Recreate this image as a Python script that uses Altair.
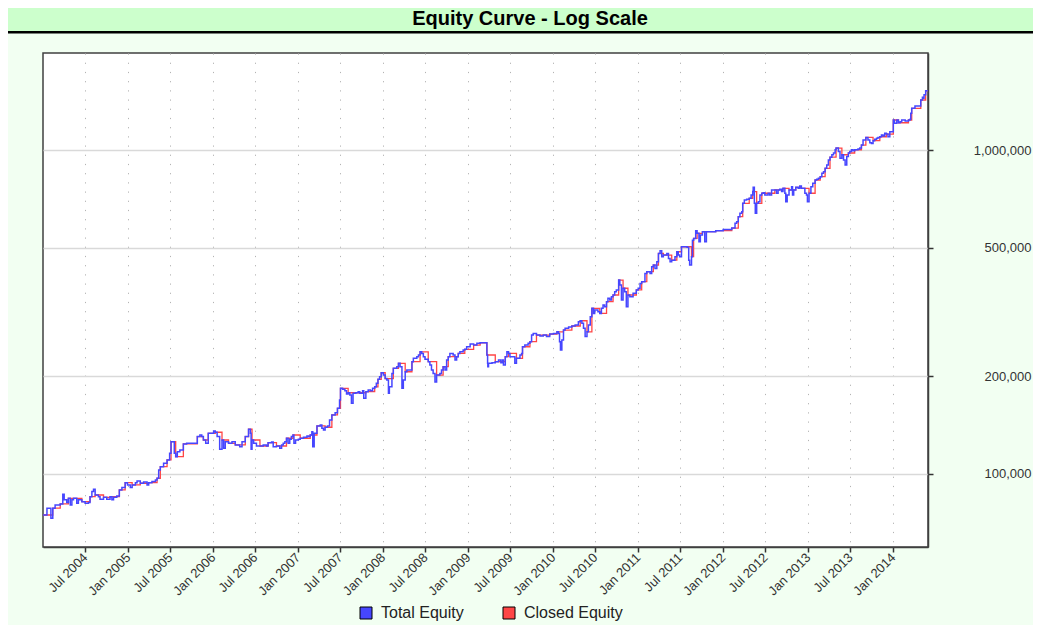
import altair as alt
import pandas as pd

chart_title = "Equity Curve - Log Scale"
series_names = ["Total Equity", "Closed Equity"]
series_colors = ["#4646FF", "#FF4646"]
y_ticks = [100000, 200000, 500000, 1000000]
x_tick_dates = [(2004, 7), (2005, 1), (2005, 7), (2006, 1), (2006, 7), (2007, 1), (2007, 7),
                (2008, 1), (2008, 7), (2009, 1), (2009, 7), (2010, 1), (2010, 7), (2011, 1),
                (2011, 7), (2012, 1), (2012, 7), (2013, 1), (2013, 7), (2014, 1)]

total_dates = [
    "2004-01-02", "2004-01-19", "2004-02-05", "2004-02-13", "2004-02-23", "2004-03-08", "2004-03-16",
    "2004-03-27", "2004-04-02", "2004-04-13", "2004-04-20", "2004-04-28", "2004-05-05", "2004-05-12",
    "2004-05-26", "2004-06-02", "2004-06-17", "2004-07-01", "2004-07-15", "2004-07-22", "2004-07-30",
    "2004-08-06", "2004-08-13", "2004-08-27", "2004-09-03", "2004-09-18", "2004-10-02", "2004-10-16",
    "2004-10-24", "2004-10-31", "2004-11-14", "2004-11-25", "2004-12-06", "2004-12-20", "2004-12-30",
    "2005-01-11", "2005-01-19", "2005-02-02", "2005-02-09", "2005-02-23", "2005-03-09", "2005-03-24",
    "2005-03-31", "2005-04-14", "2005-04-29", "2005-05-06", "2005-05-13", "2005-05-20", "2005-06-03",
    "2005-06-18", "2005-06-29", "2005-07-05", "2005-07-15", "2005-07-19", "2005-07-25", "2005-08-01",
    "2005-08-12", "2005-08-27", "2005-09-10", "2005-10-16", "2005-10-26", "2005-11-06", "2005-11-14",
    "2005-11-21", "2005-12-01", "2005-12-12", "2005-12-22", "2006-01-04", "2006-01-11", "2006-01-19",
    "2006-01-25", "2006-01-30", "2006-02-09", "2006-02-16", "2006-02-23", "2006-03-09", "2006-03-24",
    "2006-04-07", "2006-04-26", "2006-05-06", "2006-05-20", "2006-06-03", "2006-06-11", "2006-06-14",
    "2006-06-18", "2006-06-25", "2006-07-07", "2006-07-22", "2006-08-05", "2006-08-19", "2006-08-26",
    "2006-09-10", "2006-09-17", "2006-10-01", "2006-10-15", "2006-10-23", "2006-10-30", "2006-11-06",
    "2006-11-13", "2006-11-20", "2006-11-27", "2006-12-04", "2006-12-11", "2006-12-15", "2006-12-22",
    "2007-01-03", "2007-01-11", "2007-01-25", "2007-02-09", "2007-02-16", "2007-02-23", "2007-03-02",
    "2007-03-06", "2007-03-12", "2007-03-24", "2007-04-07", "2007-04-14", "2007-04-21", "2007-04-28",
    "2007-05-08", "2007-05-17", "2007-05-27", "2007-06-10", "2007-06-20", "2007-06-29", "2007-07-03",
    "2007-07-12", "2007-07-22", "2007-07-29", "2007-08-05", "2007-08-12", "2007-08-19", "2007-08-26",
    "2007-09-07", "2007-09-17", "2007-09-24", "2007-10-06", "2007-10-11", "2007-10-20", "2007-10-30",
    "2007-11-09", "2007-11-18", "2007-11-27", "2007-12-04", "2007-12-11", "2007-12-18", "2007-12-25",
    "2008-01-03", "2008-01-11", "2008-01-18", "2008-01-25", "2008-01-29", "2008-02-09", "2008-02-15",
    "2008-03-01", "2008-03-08", "2008-03-15", "2008-03-23", "2008-03-29", "2008-04-06", "2008-04-13",
    "2008-04-24", "2008-05-05", "2008-05-11", "2008-05-26", "2008-06-02", "2008-06-09", "2008-06-16",
    "2008-06-23", "2008-06-30", "2008-07-14", "2008-07-21", "2008-07-28", "2008-08-04", "2008-08-12",
    "2008-08-19", "2008-09-02", "2008-09-09", "2008-09-16", "2008-09-24", "2008-10-01", "2008-10-08",
    "2008-10-15", "2008-10-29", "2008-11-06", "2008-11-13", "2008-11-20", "2008-11-27", "2008-12-11",
    "2008-12-18", "2008-12-26", "2009-01-10", "2009-01-25", "2009-02-08", "2009-02-22", "2009-03-20",
    "2009-03-23", "2009-03-26", "2009-03-27", "2009-03-30", "2009-04-14", "2009-04-28", "2009-05-12",
    "2009-05-22", "2009-05-29", "2009-06-02", "2009-06-10", "2009-06-17", "2009-06-24", "2009-06-30",
    "2009-07-14", "2009-07-21", "2009-07-28", "2009-08-12", "2009-08-19", "2009-08-23", "2009-09-02",
    "2009-09-16", "2009-09-24", "2009-10-01", "2009-10-08", "2009-10-22", "2009-11-06", "2009-11-20",
    "2009-12-04", "2009-12-18", "2010-01-03", "2010-01-18", "2010-01-25", "2010-01-29", "2010-02-02",
    "2010-02-08", "2010-02-15", "2010-02-22", "2010-03-09", "2010-03-23", "2010-04-06", "2010-04-20",
    "2010-04-28", "2010-05-05", "2010-05-12", "2010-05-19", "2010-05-27", "2010-06-02", "2010-06-10",
    "2010-06-17", "2010-06-24", "2010-06-29", "2010-07-13", "2010-07-21", "2010-07-28", "2010-08-04",
    "2010-08-11", "2010-08-19", "2010-08-25", "2010-09-02", "2010-09-09", "2010-09-16", "2010-09-23",
    "2010-09-30", "2010-10-10", "2010-10-15", "2010-10-22", "2010-10-29", "2010-11-05", "2010-11-12",
    "2010-11-19", "2010-11-27", "2010-12-11", "2010-12-25", "2011-01-02", "2011-01-10", "2011-01-17",
    "2011-01-24", "2011-01-31", "2011-02-08", "2011-02-22", "2011-03-01", "2011-03-08", "2011-03-15",
    "2011-03-23", "2011-03-30", "2011-04-06", "2011-04-13", "2011-04-20", "2011-05-05", "2011-05-12",
    "2011-05-19", "2011-05-26", "2011-06-09", "2011-06-17", "2011-06-23", "2011-06-29", "2011-07-07",
    "2011-07-21", "2011-07-31", "2011-08-07", "2011-08-11", "2011-08-19", "2011-08-23", "2011-08-28",
    "2011-09-06", "2011-09-12", "2011-09-20", "2011-09-26", "2011-10-05", "2011-10-15", "2011-10-22",
    "2011-11-02", "2011-12-01", "2012-01-02", "2012-02-08", "2012-02-22", "2012-02-29", "2012-03-07",
    "2012-03-14", "2012-03-22", "2012-03-26", "2012-04-02", "2012-04-12", "2012-04-23", "2012-05-01",
    "2012-05-08", "2012-05-10", "2012-05-15", "2012-05-19", "2012-05-25", "2012-06-01", "2012-06-08",
    "2012-06-16", "2012-06-22", "2012-06-29", "2012-07-06", "2012-07-13", "2012-07-20", "2012-07-28",
    "2012-08-11", "2012-08-18", "2012-08-25", "2012-09-01", "2012-09-09", "2012-09-15", "2012-09-23",
    "2012-09-27", "2012-10-03", "2012-10-11", "2012-10-22", "2012-10-26", "2012-10-31", "2012-11-09",
    "2012-11-19", "2012-11-26", "2012-12-03", "2012-12-18", "2012-12-25", "2012-12-29", "2013-01-05",
    "2013-01-13", "2013-01-21", "2013-01-31", "2013-02-07", "2013-02-14", "2013-02-22", "2013-03-01",
    "2013-03-08", "2013-03-15", "2013-03-22", "2013-03-29", "2013-04-05", "2013-04-13", "2013-04-20",
    "2013-04-27", "2013-05-01", "2013-05-11", "2013-05-18", "2013-05-26", "2013-06-02", "2013-06-09",
    "2013-06-16", "2013-06-23", "2013-06-29", "2013-07-06", "2013-07-13", "2013-07-20", "2013-08-03",
    "2013-08-11", "2013-08-18", "2013-08-25", "2013-09-06", "2013-09-15", "2013-09-23", "2013-09-30",
    "2013-10-07", "2013-10-14", "2013-10-22", "2013-10-28", "2013-11-05", "2013-11-12", "2013-11-19",
    "2013-11-26", "2013-12-03", "2013-12-10", "2013-12-18", "2013-12-29", "2014-01-02", "2014-01-07",
    "2014-01-17", "2014-01-24", "2014-01-31", "2014-02-07", "2014-02-22", "2014-03-08", "2014-03-15",
    "2014-03-18", "2014-03-22", "2014-04-05", "2014-04-27", "2014-04-30", "2014-05-07", "2014-05-11",
    "2014-05-14", "2014-05-21", "2014-05-27",
]

total_values = [
    74700, 78400, 73000, 78400, 80200, 80200, 80800,
    86600, 83200, 81600, 84100, 80200, 83200, 84100,
    81200, 83200, 82100, 81200, 81600, 85100, 88200,
    89700, 86100, 85100, 83500, 84700, 83500, 85100,
    83200, 84700, 85500, 89300, 90900, 94000, 92500,
    90900, 92500, 94000, 95100, 93600, 94500, 92500,
    94000, 94700, 95800, 97000, 102900, 105300, 107900,
    110500, 115800, 125800, 125800, 115800, 113100, 117200,
    118600, 123800, 124300, 124300, 130400, 131900, 130400,
    127300, 124300, 133500, 133500, 135800, 134500, 130400,
    130400, 119200, 127300, 120000, 125800, 124300, 125800,
    122900, 121400, 125800, 130400, 137400, 133500, 119200,
    127300, 124300, 122000, 122000, 122900, 122000, 124900,
    125500, 121400, 122000, 120000, 122900, 124300, 125800,
    128900, 124300, 128000, 130400, 131900, 124300, 127300,
    128000, 128900, 129800, 131000, 130400, 131900, 135100,
    121400, 133500, 140700, 141700, 138300, 136700, 139400,
    140700, 146800, 152100, 154600, 159500, 169200, 183800,
    182500, 180800, 176500, 178100, 175300, 165200, 177400,
    178100, 179500, 177400, 180800, 171200, 179500, 181600,
    180800, 183800, 185800, 190400, 196000, 199500, 205300,
    202000, 197000, 195000, 177400, 185800, 204400, 211900,
    214400, 219600, 214400, 183800, 195000, 206800, 209400,
    209400, 222100, 227500, 230200, 232900, 238300, 235600,
    230200, 225900, 222100, 216900, 209400, 204400, 192400,
    202000, 204400, 209400, 214400, 209400, 224900, 230200,
    235600, 232900, 224900, 230200, 235600, 238300, 241300,
    242500, 247000, 251800, 250000, 253000, 254000, 254000,
    232900, 219600, 214400, 219600, 220600, 222100, 224900,
    220600, 224900, 216900, 230200, 238300, 235600, 230200,
    230200, 219600, 227500, 232900, 235600, 247000, 250000,
    253000, 256000, 268400, 271600, 268400, 266600, 268400,
    265500, 270300, 271600, 274700, 271600, 256000, 241300,
    259100, 278100, 281500, 284400, 286300, 288300, 295000,
    297100, 291800, 281500, 265500, 274700, 288300, 305900,
    324500, 313100, 320600, 316800, 313100, 324500, 332200,
    328000, 340200, 348500, 344200, 352400, 356800, 365100,
    369800, 396700, 382800, 344200, 374400, 365100, 328000,
    356800, 352400, 361300, 369800, 374400, 387500, 392300,
    392300, 416100, 421100, 416100, 436000, 441300, 431000,
    451900, 479500, 488700, 468400, 474000, 479500, 462800,
    451900, 457100, 468400, 485200, 474000, 468400, 502800,
    502800, 500800, 457100, 441300, 468400, 527000, 533400,
    563600, 553200, 520800, 546200, 559500, 520800, 559500,
    559500, 563600, 568800, 574100, 594000, 600800, 622700,
    637700, 645000, 684700, 701000, 704500, 709400, 726400,
    744000, 767000, 684700, 637700, 684700, 692500, 726400,
    735400, 738700, 726400, 726400, 735400, 726400, 752800,
    752800, 735400, 752800, 756500, 744000, 761800, 735400,
    692500, 726400, 752800, 770000, 726400, 752800, 767000,
    761800, 774300, 761800, 735400, 726400, 692500, 735400,
    770000, 789300, 808000, 812000, 817700, 827500, 847800,
    857500, 878000, 899000, 931500, 950300, 966800, 978900,
    1002000, 1014000, 990000, 942600, 966800, 931500, 899000,
    954600, 978900, 990000, 1002000, 995000, 1002000, 1007000,
    1014000, 1036000, 1074000, 1094000, 1074000, 1053000, 1048000,
    1069000, 1079000, 1087000, 1094000, 1099000, 1112000, 1104000,
    1126000, 1120000, 1099000, 1139000, 1139000, 1238000, 1209000,
    1238000, 1214000, 1222000, 1238000, 1230000, 1238000, 1244000,
    1298000, 1345000, 1367000, 1367000, 1427000, 1455000, 1445000,
    1480000, 1524000, 1532000,
]

closed_dates = [
    "2004-01-02", "2004-02-13", "2004-03-16", "2004-04-20", "2004-05-12", "2004-06-17", "2004-07-22",
    "2004-08-13", "2004-09-18", "2004-10-16", "2004-11-25", "2004-12-20", "2005-01-19", "2005-02-23",
    "2005-03-31", "2005-05-06", "2005-05-20", "2005-06-18", "2005-07-05", "2005-07-25", "2005-08-27",
    "2005-10-26", "2005-11-21", "2005-12-12", "2006-01-11", "2006-02-09", "2006-03-09", "2006-04-07",
    "2006-05-20", "2006-06-03", "2006-06-18", "2006-07-22", "2006-08-26", "2006-10-01", "2006-11-13",
    "2006-12-11", "2007-01-11", "2007-02-23", "2007-03-24", "2007-04-28", "2007-05-27", "2007-06-20",
    "2007-07-03", "2007-08-05", "2007-09-07", "2007-10-20", "2007-11-27", "2007-12-11", "2007-12-25",
    "2008-01-11", "2008-02-15", "2008-03-08", "2008-04-06", "2008-05-05", "2008-06-09", "2008-07-14",
    "2008-08-19", "2008-09-16", "2008-10-08", "2008-11-20", "2008-12-18", "2009-01-25", "2009-02-22",
    "2009-03-23", "2009-04-28", "2009-06-10", "2009-06-24", "2009-07-28", "2009-08-23", "2009-09-24",
    "2009-10-22", "2009-12-18", "2010-01-18", "2010-02-15", "2010-03-23", "2010-04-28", "2010-05-27",
    "2010-06-17", "2010-07-21", "2010-08-19", "2010-09-16", "2010-10-10", "2010-10-29", "2010-11-19",
    "2010-12-25", "2011-01-17", "2011-02-08", "2011-03-08", "2011-03-30", "2011-04-20", "2011-05-26",
    "2011-06-17", "2011-07-07", "2011-08-19", "2011-08-28", "2011-09-12", "2011-10-05", "2011-12-01",
    "2012-02-08", "2012-03-07", "2012-03-26", "2012-04-23", "2012-05-08", "2012-05-25", "2012-06-16",
    "2012-07-13", "2012-08-11", "2012-09-15", "2012-10-11", "2012-11-09", "2012-12-03", "2013-01-05",
    "2013-01-31", "2013-02-22", "2013-03-15", "2013-04-05", "2013-05-01", "2013-05-26", "2013-06-23",
    "2013-07-20", "2013-08-18", "2013-09-06", "2013-10-07", "2013-11-05", "2013-12-03", "2014-01-02",
    "2014-01-24", "2014-03-08", "2014-03-22", "2014-04-30", "2014-05-21", "2014-05-27",
]

closed_values = [
    74700, 78400, 80800, 84100, 84100, 82100, 85100,
    86100, 84700, 85100, 89300, 94000, 92500, 93600,
    94000, 97000, 105300, 110500, 125800, 113100, 123800,
    130400, 127300, 133500, 134500, 127300, 124300, 122900,
    130400, 137400, 127300, 122000, 124900, 122000, 128900,
    131900, 128900, 131900, 140700, 139400, 152100, 159500,
    183800, 178100, 178100, 179500, 185800, 196000, 205300,
    197000, 211900, 219600, 206800, 222100, 238300, 222100,
    202000, 214400, 230200, 235600, 242500, 250000, 254000,
    232900, 222100, 230200, 235600, 227500, 247000, 256000,
    268400, 270300, 274700, 278100, 286300, 297100, 274700,
    324500, 313100, 340200, 356800, 396700, 374400, 356800,
    369800, 392300, 421100, 441300, 479500, 474000, 457100,
    485200, 502800, 468400, 533400, 553200, 559500, 563600,
    574100, 622700, 684700, 709400, 744000, 684700, 735400,
    735400, 752800, 761800, 752800, 767000, 761800, 735400,
    808000, 827500, 878000, 950300, 1014000, 966800, 978900,
    1002000, 1036000, 1094000, 1069000, 1099000, 1120000, 1238000,
    1214000, 1238000, 1345000, 1427000, 1524000, 1532000,
]

FONT = "Liberation Sans"

total_df = pd.DataFrame({"date": total_dates, "equity": total_values, "series": series_names[0]})
closed_df = pd.DataFrame({"date": closed_dates, "equity": closed_values, "series": series_names[1]})
legend_df = pd.DataFrame({"date": [total_dates[0]] * 2, "equity": [total_values[0]] * 2,
                          "key": series_names})
title_df = pd.DataFrame({"t": [chart_title]})

x_enc = alt.X(
    "date:T",
    scale=alt.Scale(
        type="utc",
        domain=[alt.DateTime(year=2004, month=1, date=2, utc=True),
                alt.DateTime(year=2014, month=5, date=31, utc=True)],
    ),
    axis=alt.Axis(
        values=[alt.DateTime(year=y, month=m, date=1, utc=True) for (y, m) in x_tick_dates],
        format="%b %Y", title=None, labelAngle=-45, labelAlign="right", labelBaseline="middle",
        labelOverlap=False, labelPadding=3, labelFont=FONT, labelFontSize=13,
        labelColor="#333333", tickSize=5, tickColor="#333333", tickWidth=1.5,
        domainColor="#404040", domainWidth=1.5,
        grid=True, gridColor="#b4b4b4", gridDash=[1.2, 8], gridWidth=1,
    ),
)
y_enc = alt.Y(
    "equity:Q",
    scale=alt.Scale(type="log", domain=[59500, 1993000], nice=False),
    axis=alt.Axis(
        orient="right", values=y_ticks, format=",.0f", title=None,
        labelAlign="right", labelPadding=98, labelFont=FONT, labelFontSize=13,
        labelColor="#333333", tickSize=5, tickColor="#333333", tickWidth=1.5,
        domainColor="#404040", domainWidth=1.5, labelOverlap=False,
        grid=True, gridColor="#d9d9d9", gridWidth=1.5,
    ),
)
color_scale = alt.Scale(domain=series_names, range=series_colors)

title_bar = alt.Chart(title_df).mark_rect(color="#CCFFCC").encode(
    x=alt.value(-35), x2=alt.value(990), y=alt.value(-45), y2=alt.value(-22))
title_line = alt.Chart(title_df).mark_rect(color="#000000").encode(
    x=alt.value(-35), x2=alt.value(990), y=alt.value(-22), y2=alt.value(-19.5))
title_text = alt.Chart(title_df).mark_text(
    font=FONT, fontSize=20, fontWeight="bold", color="#000000", align="center", baseline="middle"
).encode(x=alt.value(487), y=alt.value(-34), text="t:N")

closed_line = alt.Chart(closed_df).mark_line(interpolate="step-after", strokeWidth=1.3).encode(
    x=x_enc, y=y_enc, color=alt.Color("series:N", scale=color_scale, legend=None))
total_line = alt.Chart(total_df).mark_line(interpolate="step-after", strokeWidth=1.5).encode(
    x=x_enc, y=y_enc, color=alt.Color("series:N", scale=color_scale, legend=None))

legend_layer = alt.Chart(legend_df).mark_square(size=0, opacity=1, filled=True).encode(
    x=x_enc, y=y_enc,
    fill=alt.Fill("key:N", scale=alt.Scale(domain=series_names, range=series_colors),
                  legend=alt.Legend(
                      orient="none", legendX=315, legendY=552, direction="horizontal", title=None,
                      symbolType="square", symbolSize=144, symbolStrokeColor="#000000",
                      symbolStrokeWidth=1, symbolOpacity=1, labelFont=FONT, labelFontSize=16,
                      labelColor="#222222", labelOffset=7, columnPadding=37)),
)

chart = alt.layer(
    title_bar, title_line, closed_line, total_line, legend_layer, title_text
).resolve_scale(
    color="independent", fill="independent"
).properties(
    width=885, height=494,
    autosize=alt.AutoSizeParams(type="none"),
    padding={"left": 35, "top": 45, "right": 105, "bottom": 78},
).configure(
    background="#F2FFF2",
).configure_view(
    fill="#FFFFFF", stroke="#404040", strokeWidth=1.5,
)

chart.save("out.html", embed_options={"renderer": "svg", "actions": False})
